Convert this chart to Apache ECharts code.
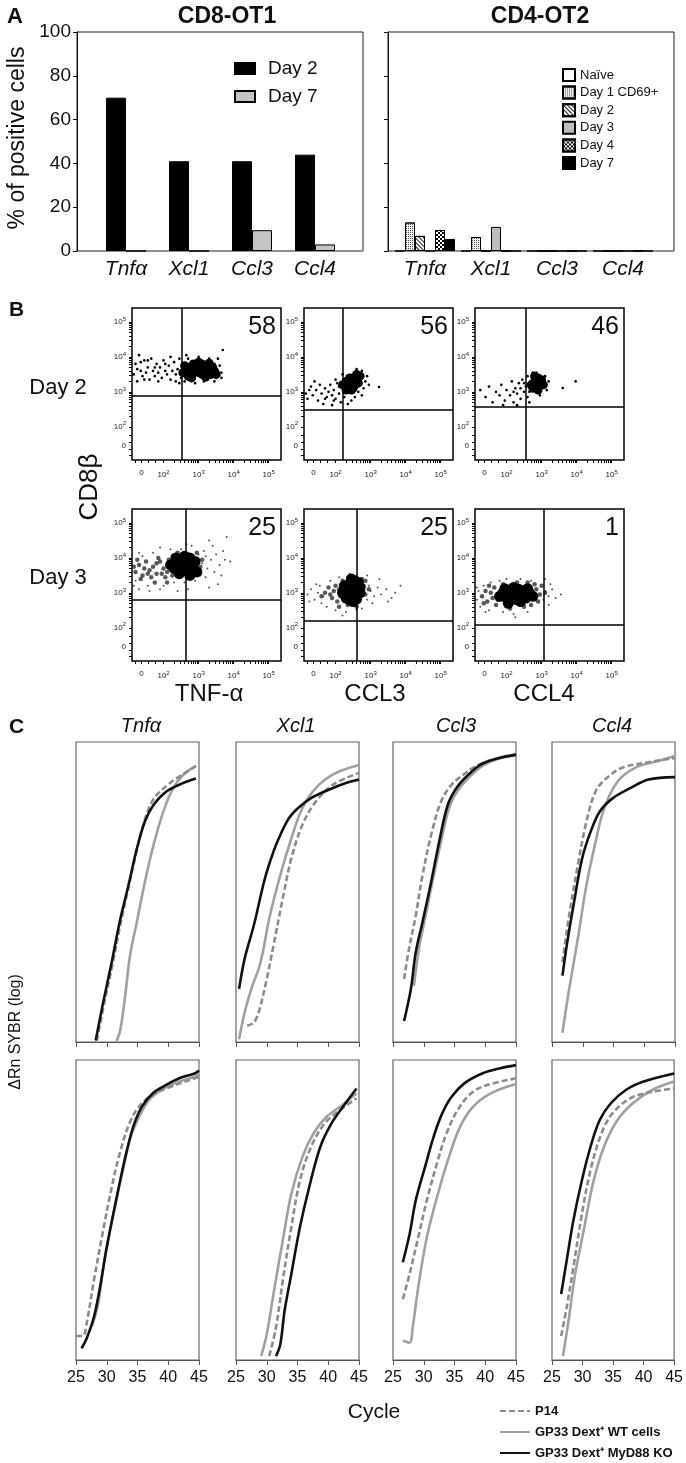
<!DOCTYPE html>
<html>
<head>
<meta charset="utf-8">
<script src="https://cdn.jsdelivr.net/npm/echarts@6/dist/echarts.min.js"></script>
<style>
  html, body { margin: 0; padding: 0; background: #fff; }
  #main { width: 686px; height: 1463px; }
</style>
</head>
<body>
<div id="main"></div>
<script>
const FONT = 'Liberation Sans, Arial, Helvetica, sans-serif';

// ---------- A: % of positive cells ----------
const genes = ['Tnfα', 'Xcl1', 'Ccl3', 'Ccl4'];
const ot1Day2 = [70, 41, 41, 44];
const ot1Day7 = [0, 0, 9.5, 3];
const ot2Naive = [0, 0, 0, 0];
const ot2Day1 = [13, 6.4, 0, 0];
const ot2Day2 = [6.9, 0, 0, 0];
const ot2Day3 = [0, 11, 0, 0];
const ot2Day4 = [9.6, 0, 0, 0];
const ot2Day7 = [5.5, 0, 0, 0];

// ---------- B: flow plots (log10 units) ----------
const flowMarkers = ['TNF-α', 'CCL3', 'CCL4'];
const flowDays = ['Day 2', 'Day 3'];
const flowPct = ['58', '56', '46', '25', '25', '1'];
const flowGates = [[2.52, 2.88], [2.21, 2.5], [2.54, 2.58], [2.64, 2.8], [2.61, 2.21], [3.06, 2.08]];

const d2TnfCore = [[2.65,3.6],[2.75,3.7],[2.8,3.5],[2.9,3.65],[2.95,3.75],[3.0,3.55],[3.05,3.68],[3.1,3.5],[3.15,3.62],[3.2,3.72],[3.25,3.55],[3.3,3.65],[2.85,3.8],[3.1,3.8],[2.7,3.45],[3.35,3.5],[3.4,3.7],[2.6,3.75],[3.45,3.6],[3.5,3.5],[2.55,3.55],[3.0,3.85],[3.3,3.82],[2.8,3.4],[3.2,3.42]];
const d2TnfCells = [[1.15,3.5],[1.2,3.8],[1.25,3.3],[1.3,4.05],[1.35,3.6],[1.4,3.45],[1.45,3.9],[1.5,3.55],[1.55,3.7],[1.6,3.35],[1.65,3.95],[1.7,3.6],[1.75,3.45],[1.8,3.8],[1.85,3.55],[1.9,3.7],[1.95,3.4],[2.0,3.9],[2.05,3.6],[2.1,3.5],[2.15,3.75],[2.2,3.35],[2.25,3.6],[2.3,3.85],[2.35,3.5],[2.4,3.65],[2.45,3.95],[2.5,3.4],[2.55,3.7],[3.45,3.8],[3.5,3.4],[3.55,3.6],[3.6,3.75],[3.45,3.3],[3.3,3.95],[3.0,4.0],[2.7,3.95],[2.6,3.3],[3.15,3.3],[3.65,3.55],[3.69,4.2],[2.9,3.25],[1.25,3.65],[1.55,3.9],[1.85,3.3],[2.2,4.0],[2.45,3.25],[3.55,3.95],[1.35,3.85],[1.75,3.7],[2.05,3.8],[2.35,3.3],[1.45,3.35],[2.65,4.05],[3.65,3.4]];
const d2Ccl3Core = [[2.2,3.2],[2.3,3.3],[2.35,3.15],[2.45,3.25],[2.5,3.4],[2.55,3.2],[2.6,3.35],[2.65,3.25],[2.4,3.4],[2.7,3.45],[2.5,3.1],[2.3,3.05],[2.6,3.5],[2.45,3.05]];
const d2Ccl3Cells = [[1.15,2.95],[1.2,2.8],[1.3,3.15],[1.35,2.9],[1.45,3.05],[1.5,2.75],[1.55,3.2],[1.6,2.95],[1.7,3.1],[1.75,2.85],[1.8,3.0],[1.85,3.2],[1.9,2.9],[1.95,3.05],[2.0,2.8],[2.05,3.25],[2.1,2.95],[2.15,2.7],[1.65,2.65],[1.9,2.62],[2.75,3.6],[2.8,3.1],[2.85,3.3],[2.9,3.45],[2.75,2.9],[2.6,3.65],[2.55,2.85],[3.24,3.14],[2.95,3.2],[2.45,2.75],[1.4,3.3],[2.0,3.35],[2.25,2.85],[2.2,3.5],[2.65,3.0],[1.25,3.05],[1.7,2.8],[2.1,3.15],[1.95,2.75],[2.35,2.65]];
const d2Ccl4Core = [[2.7,3.2],[2.8,3.3],[2.85,3.15],[2.9,3.4],[2.95,3.25],[3.0,3.35],[2.75,3.1],[3.05,3.2],[2.9,3.05],[2.8,3.45]];
const d2Ccl4Cells = [[1.25,3.05],[1.4,2.85],[1.5,3.15],[1.6,2.7],[1.7,3.0],[1.8,2.9],[1.85,3.2],[1.95,2.75],[2.0,3.05],[2.1,2.9],[2.15,3.3],[2.2,2.7],[2.25,3.1],[2.3,2.95],[2.35,3.25],[2.4,2.8],[2.45,3.35],[2.5,3.0],[2.55,3.15],[2.6,2.85],[2.6,3.45],[2.65,2.7],[3.1,3.45],[3.15,3.05],[3.2,3.3],[2.85,3.55],[2.95,2.9],[3.6,3.11],[3.97,3.3],[2.75,3.55],[1.9,2.62],[2.3,2.62],[2.5,3.25],[2.4,3.1],[2.65,3.0],[2.2,3.0]];
const d3TnfCore = [[2.3,3.7],[2.4,3.85],[2.5,3.65],[2.55,3.95],[2.6,3.75],[2.65,3.85],[2.7,3.6],[2.75,4.0],[2.8,3.8],[2.85,3.7],[2.9,3.9],[2.45,3.55],[2.35,4.0],[2.95,3.6],[2.2,3.8],[2.6,4.05],[2.75,3.5],[2.5,3.8]];
const d3TnfMid = [[1.2,3.6],[1.3,3.8],[1.4,3.5],[1.5,3.9],[1.6,3.65],[1.7,3.75],[1.8,3.55],[1.9,3.9],[2.0,3.7],[2.1,3.6],[1.25,3.95],[1.45,3.7],[1.65,3.45],[1.85,4.0],[2.05,3.45],[2.15,3.95],[1.35,3.4],[1.75,3.3],[1.15,3.75],[1.95,3.55],[1.55,3.55],[2.25,3.5],[2.1,3.3],[1.8,3.85],[3.05,3.75],[3.1,3.95],[2.95,4.15],[2.4,4.15]];
const d3TnfCells = [[1.15,3.2],[1.3,4.15],[1.55,3.2],[1.7,4.15],[2.0,3.2],[2.3,3.3],[2.6,3.3],[2.9,3.35],[3.05,3.5],[3.1,3.85],[3.15,4.2],[3.25,3.7],[3.35,3.95],[3.4,4.35],[3.5,4.1],[3.6,3.8],[3.7,4.2],[3.75,3.95],[3.3,4.5],[3.8,4.6],[2.8,4.35],[2.5,4.25],[2.2,4.25],[1.9,4.3],[3.3,3.15],[2.7,3.1],[2.4,3.05],[3.9,3.9],[3.55,3.25],[1.6,3.05],[1.2,3.35],[1.4,4.05],[3.0,4.1],[3.2,3.45],[1.3,3.1],[1.9,3.1],[3.45,3.6],[3.2,4.05],[2.65,4.4],[3.65,3.5]];
const d3Ccl3Core = [[2.2,3.0],[2.3,3.15],[2.35,2.9],[2.4,3.25],[2.45,3.05],[2.5,3.2],[2.55,2.95],[2.6,3.1],[2.65,3.3],[2.7,3.0],[2.4,2.8],[2.55,3.35],[2.3,2.85],[2.6,2.82],[2.25,3.2],[2.45,3.4],[2.7,3.15],[2.5,2.75]];
const d3Ccl3Mid = [[1.7,3.0],[1.8,3.15],[1.9,2.85],[1.95,3.05],[2.0,3.2],[2.05,2.75],[2.1,3.1],[2.15,2.9],[2.8,3.2],[2.75,3.4],[2.85,2.95],[2.5,3.45],[2.2,3.35],[2.35,2.65],[2.6,2.6],[1.6,2.9],[1.85,2.95],[2.1,2.6],[2.85,3.35],[2.95,3.1]];
const d3Ccl3Cells = [[1.2,2.95],[1.3,3.1],[1.4,2.8],[1.5,3.0],[1.6,2.7],[1.55,3.2],[1.75,2.6],[1.85,3.35],[2.0,2.5],[2.3,2.45],[2.6,2.5],[2.9,2.8],[2.95,3.2],[3.0,3.05],[3.1,2.9],[3.2,3.15],[3.3,2.95],[3.45,3.1],[3.6,2.85],[3.7,3.0],[3.85,3.2],[2.9,3.5],[2.4,3.55],[3.25,3.4],[3.5,2.75],[2.1,3.45],[1.65,2.9],[1.45,3.25],[1.25,2.75],[3.05,2.7],[2.75,2.55],[2.2,2.35]];
const d3Ccl4Core = [[1.8,2.9],[1.9,3.0],[2.0,2.85],[2.1,3.05],[2.15,2.9],[2.25,3.0],[2.3,2.8],[2.35,3.1],[2.45,2.95],[2.5,3.05],[2.55,2.85],[2.65,3.0],[2.75,2.9],[2.2,3.15],[2.4,2.75],[2.6,3.12],[1.95,3.12],[2.05,2.7]];
const d3Ccl4Mid = [[1.3,2.9],[1.4,3.05],[1.45,2.75],[1.55,3.0],[1.6,2.85],[1.65,3.15],[1.7,2.65],[2.85,3.1],[2.9,2.75],[2.95,2.95],[3.0,3.2],[2.8,3.25],[2.3,3.3],[1.9,3.25],[2.5,2.6],[2.1,2.55],[1.5,3.2],[1.75,2.8],[2.7,2.65],[3.1,3.0],[2.6,3.3],[1.35,2.7]];
const d3Ccl4Cells = [[1.15,2.8],[1.2,3.05],[1.25,2.6],[1.35,3.2],[1.5,2.5],[1.55,3.3],[1.8,3.35],[1.9,2.45],[2.2,2.4],[2.4,3.4],[2.6,2.45],[2.7,3.35],[3.05,2.8],[3.1,3.05],[3.2,2.9],[3.3,3.1],[3.4,2.85],[3.55,2.95],[3.1,3.4],[2.25,2.3],[3.2,2.65],[1.4,2.45],[1.15,3.15],[2.0,3.4],[3.25,3.25]];

const flowCore = [d2TnfCore, d2Ccl3Core, d2Ccl4Core, d3TnfCore, d3Ccl3Core, d3Ccl4Core];
const flowMid = [[], [], [], d3TnfMid, d3Ccl3Mid, d3Ccl4Mid];
const flowCells = [d2TnfCells, d2Ccl3Cells, d2Ccl4Cells, d3TnfCells, d3Ccl3Cells, d3Ccl4Cells];

// ---------- C: qPCR amplification (cycle, relative log dRn) ----------
const qGenes = ['Tnfα', 'Xcl1', 'Ccl3', 'Ccl4'];
const qNames = ['P14', 'GP33 Dext⁺ WT cells', 'GP33 Dext⁺ MyD88 KO'];

const tnfTopP14 = [[28.4,0.5],[29.6,13],[31,26.5],[32.3,40],[33.6,52],[34.9,64],[36.1,73.5],[37.2,79.5],[38.2,82.5],[39.8,85.5],[41.4,88],[43,90],[44.5,92]];
const tnfTopWT = [[31.6,0.3],[32.2,4],[33,15.5],[33.8,29],[34.9,40],[36.2,53.3],[37.6,65.6],[39.2,76.8],[40.8,84.6],[42.4,89],[44.5,92]];
const tnfTopKO = [[28.2,0.5],[29.4,13],[30.8,26.5],[32.1,40],[33.5,52],[34.9,64.5],[36.2,73.5],[37.6,79],[39.7,83.5],[42.4,86.3],[44.5,87.8]];
const xclTopP14 = [[26.8,5.4],[27.9,6.5],[28.7,10],[30,21],[31.1,32.2],[32.6,47.8],[34,61.2],[35.8,72.4],[38,80.2],[40.8,85.8],[45,89.7]];
const xclTopWT = [[25.5,0.9],[26.4,9.8],[27.5,17.7],[29,26.6],[30.4,41.1],[32.2,55.6],[34,67.9],[35.8,78],[38,84.7],[40.8,89.2],[45,92.3]];
const xclTopKO = [[25.5,17.7],[26.4,27.7],[27.9,38.9],[29.7,54.5],[31.1,63.5],[32.2,69],[33.6,74.6],[35.1,78],[37.2,81.3],[40.1,84.1],[43,86.4],[45,87.5]];
const ccl3TopP14 = [[26.8,21],[27.6,31],[28.7,42.2],[29.8,55.6],[31.2,69],[32.8,80.1],[34.5,85.7],[36.7,89.5],[38.5,92],[41,94],[45,95.8]];
const ccl3TopWT = [[28.4,18.7],[29.2,31],[30.1,40],[31.4,53.3],[32.8,66.7],[34.2,78.5],[35.6,84],[37.5,88.5],[39.7,92.2],[42.1,94.4],[45,95.5]];
const ccl3TopKO = [[26.8,7],[27.9,17.6],[28.7,29.9],[29.8,40],[31.2,53.3],[32.5,66.7],[33.9,79],[35.3,84.6],[37.2,89],[39.4,92.6],[42.1,94.6],[45,95.8]];
const ccl4TopP14 = [[26.7,26.6],[27.7,41.1],[29.2,59],[30.6,73.5],[32.1,83.6],[33.9,88],[36.4,91.4],[40,93],[45,94.7]];
const ccl4TopWT = [[26.7,3.1],[27.7,16.5],[29.2,34.4],[30.6,52.3],[32.1,66.8],[33.5,78],[35.7,86.9],[38.5,91.4],[42.1,93.6],[45,95.3]];
const ccl4TopKO = [[26.7,22.1],[27.4,32.2],[28.5,45.6],[29.9,61.2],[31.3,70.2],[32.8,76.9],[34.9,81.3],[37.8,84.7],[40.7,87.5],[45,88.3]];

const tnfBotP14 = [[25,8],[26.1,8],[26.8,13],[27.9,26.4],[29.3,42],[30.7,56.5],[32.1,68.8],[33.9,79.9],[35.7,85.5],[37.9,88.9],[40.4,91.1],[44.3,93.9],[45,94.5]];
const tnfBotWT = [[27.6,11.4],[28.6,18.6],[29.6,33.1],[31.1,48.7],[32.5,62.1],[33.9,74.4],[35.4,81.6],[37.1,87.2],[39.3,90.5],[41.8,92.8],[44.3,94.4],[45,95]];
const tnfBotKO = [[25.9,3.9],[26.8,7.5],[27.9,14.2],[28.9,24.2],[30,37.6],[31.4,52.1],[32.9,66.6],[34.3,77.7],[35.7,84.4],[37.5,88.9],[39.6,91.6],[41.8,93.9],[44.3,95.5],[45,96.5]];
const xclBotP14 = [[30.4,1.3],[31.5,10.8],[32.6,26.4],[34,44.3],[35.4,59.9],[37.2,71],[39.4,78.8],[41.9,83.3],[44.6,87.2]];
const xclBotWT = [[29.1,1.3],[30,8.6],[31.1,22],[32.6,39.8],[34,55.4],[35.8,67.7],[37.6,75.5],[39.7,81],[42.3,85],[44.6,88.9]];
const xclBotKO = [[31.5,1.3],[32.2,5.2],[32.9,16.4],[34,28.7],[35.4,44.3],[36.9,57.6],[38.7,71],[40.5,78.8],[42.6,85],[44.6,90.5]];
const ccl3BotP14 = [[26.6,20.3],[27.7,28.7],[29.1,40.9],[30.5,53.2],[32.3,66.6],[33.7,75.5],[35.5,83.3],[37.7,88.9],[40.2,91.6],[45,93.9]];
const ccl3BotWT = [[26.6,6.4],[27.7,5.8],[28.2,10.8],[29.1,24.2],[30.5,40.9],[32.3,55.4],[34.1,67.7],[35.9,77.7],[38,84.4],[40.9,88.9],[45,92]];
const ccl3BotKO = [[26.6,32.6],[27.7,42],[28.7,53.2],[30.2,64.3],[31.6,74.4],[33,82.2],[34.5,87.7],[36.6,92.2],[39.5,95.5],[42.3,97.2],[45,98.3]];
const ccl4BotP14 = [[26.5,8],[27.4,17.5],[28.5,30.9],[29.9,48.7],[31.3,63.2],[33.1,75.5],[34.9,82.2],[37.8,87.2],[41.4,89.4],[45,90.5]];
const ccl4BotWT = [[26.8,1.3],[27.7,13],[28.8,28.7],[30.3,44.3],[31.7,58.8],[33.5,71],[35.7,79.9],[38.2,85.5],[41.4,90],[45,92.8]];
const ccl4BotKO = [[26.5,22],[27.4,33.1],[28.5,46.5],[29.9,59.9],[31.3,71],[32.8,79.9],[34.6,85.5],[37.1,90],[40,92.8],[45,95.5]];

const qTop = [[tnfTopP14, tnfTopWT, tnfTopKO], [xclTopP14, xclTopWT, xclTopKO], [ccl3TopP14, ccl3TopWT, ccl3TopKO], [ccl4TopP14, ccl4TopWT, ccl4TopKO]];
const qBot = [[tnfBotP14, tnfBotWT, tnfBotKO], [xclBotP14, xclBotWT, xclBotKO], [ccl3BotP14, ccl3BotWT, ccl3BotKO], [ccl4BotP14, ccl4BotWT, ccl4BotKO]];

// ---------- layout ----------
const grid = [], xAxis = [], yAxis = [], series = [], graphic = [];

function txt(text, x, y, size, opts) {
  graphic.push(Object.assign({
    type: 'text', x: x, y: y, silent: true,
    style: Object.assign({
      text: text, fontSize: size, fontFamily: FONT, fill: '#111',
      textAlign: 'center', textVerticalAlign: 'middle'
    }, (opts && opts.style) || {})
  }, (opts && opts.rotation) ? { rotation: opts.rotation } : {}));
}

// A: box grids carry y labels, bar grids are inset like the original
const aBox = [{ left: 77 }, { left: 388 }];
const aBars = [{ left: 94.5, width: 252 }, { left: 392, width: 264 }];
aBox.forEach((b, k) => {
  grid.push({ left: b.left, top: 32, width: 286, height: 219, show: true, borderColor: '#222', borderWidth: 1 });
  xAxis.push({ gridIndex: grid.length - 1, type: 'value', show: false, min: 0, max: 1 });
  yAxis.push({
    gridIndex: grid.length - 1, type: 'value', min: 0, max: 100, interval: 20,
    axisLine: { show: true, lineStyle: { color: '#111', width: 1 } },
    axisTick: { show: true, length: 4, lineStyle: { color: '#111' } },
    splitLine: { show: false },
    axisLabel: { show: k === 0, fontSize: 19, fontFamily: FONT, color: '#111', margin: 6 }
  });
});
aBars.forEach(b => {
  grid.push({ left: b.left, top: 32, width: b.width, height: 219 });
  xAxis.push({
    gridIndex: grid.length - 1, type: 'category', data: genes,
    axisLine: { show: false }, axisTick: { show: false },
    axisLabel: { fontSize: 21, fontStyle: 'italic', fontFamily: FONT, color: '#111', margin: 8 }
  });
  yAxis.push({ gridIndex: grid.length - 1, type: 'value', min: 0, max: 100, show: false });
});

series.push(
  { type: 'bar', name: 'Day 2', xAxisIndex: 2, yAxisIndex: 2, data: ot1Day2, barWidth: 20, barGap: '0%',
    itemStyle: { color: '#000', borderColor: '#000', borderWidth: 1 } },
  { type: 'bar', name: 'Day 7', xAxisIndex: 2, yAxisIndex: 2, data: ot1Day7, barWidth: 20, barGap: '0%',
    itemStyle: { color: '#c4c4c4', borderColor: '#000', borderWidth: 1 } }
);

const decalDots = { symbol: 'rect', symbolSize: 1, dashArrayX: [1, 1], dashArrayY: [1, 1], color: '#555' };
const decalHatch = { symbol: 'rect', symbolSize: 1, dashArrayX: [1, 0], dashArrayY: [1, 2], rotation: Math.PI / 4, color: '#222' };
const decalCheck = { symbol: 'rect', symbolSize: 1, dashArrayX: [[2, 2], [0, 2, 2, 0]], dashArrayY: [2, 0], color: '#000' };
const ot2Series = [
  ['Naïve', ot2Naive, '#fff', null],
  ['Day 1 CD69+', ot2Day1, '#eee', decalDots],
  ['Day 2 ', ot2Day2, '#fff', decalHatch],
  ['Day 3', ot2Day3, '#bdbdbd', null],
  ['Day 4', ot2Day4, '#fff', decalCheck],
  ['Day 7 ', ot2Day7, '#000', null]
];
ot2Series.forEach(s => {
  const style = { color: s[2], borderColor: '#000', borderWidth: 1 };
  if (s[3]) style.decal = s[3];
  series.push({ type: 'bar', name: s[0], xAxisIndex: 3, yAxisIndex: 3, data: s[1], barWidth: 10, barGap: '0%', itemStyle: style });
});

// B: flow cytometry plots
const flowLeft = [132, 304, 475];
const flowTop = [308, 509];
const flowW = 149, flowH = 152;
const flowTickVals = [1.2, 1.37, 1.55, 1.75];
for (let d = 2; d <= 4; d++) for (let k = 1; k <= 9; k++) flowTickVals.push(d + Math.log10(k));
flowTickVals.push(5);
const supLabel = v => (v < 1.9 ? '0' : '10{s|' + Math.round(v) + '}');

for (let i = 0; i < 6; i++) {
  const col = i % 3, row = Math.floor(i / 3);
  const gi = grid.length;
  grid.push({ left: flowLeft[col], top: flowTop[row], width: flowW, height: flowH, show: true, borderColor: '#000', borderWidth: 1.5 });
  const labelCommon = { fontSize: 8, fontFamily: FONT, color: '#222', formatter: supLabel,
    rich: { s: { fontSize: 6, fontFamily: FONT, color: '#222', padding: [0, 0, 6, 0] } } };
  xAxis.push({
    gridIndex: gi, type: 'value', min: 1.1, max: 5.35,
    axisLine: { show: false }, splitLine: { show: false },
    axisTick: { show: true, length: 3, customValues: flowTickVals, lineStyle: { color: '#000' } },
    axisLabel: Object.assign({ customValues: [1.37, 2, 3, 4, 5], margin: 9 }, labelCommon)
  });
  yAxis.push({
    gridIndex: gi, type: 'value', min: 1.05, max: 5.4,
    axisLine: { show: false }, splitLine: { show: false },
    axisTick: { show: true, length: 3, customValues: flowTickVals, lineStyle: { color: '#000' } },
    axisLabel: Object.assign({ customValues: [1.47, 2, 3, 4, 5], margin: 6 }, labelCommon)
  });
  series.push(
    { type: 'scatter', name: 'flowCells' + i, xAxisIndex: gi, yAxisIndex: gi, data: flowCells[i], silent: true,
      symbolSize: row === 1 ? 2 : 2.6, itemStyle: { color: row === 1 ? '#555' : '#000', opacity: 1 },
      markLine: { silent: true, symbol: ['none', 'none'], label: { show: false },
        lineStyle: { color: '#000', width: 1.5, type: 'solid' },
        data: [{ xAxis: flowGates[i][0] }, { yAxis: flowGates[i][1] }] } },
    { type: 'scatter', name: 'flowMid' + i, xAxisIndex: gi, yAxisIndex: gi, data: flowMid[i], silent: true,
      symbolSize: 4.5, itemStyle: { color: '#222', opacity: 0.75 } },
    { type: 'scatter', name: 'flowCore' + i, xAxisIndex: gi, yAxisIndex: gi, data: flowCore[i], silent: true,
      symbolSize: row === 1 ? 11 : 9, itemStyle: { color: '#000', opacity: 1 } }
  );
  txt(flowPct[i], flowLeft[col] + flowW - 5, flowTop[row] + 19, 25, { style: { textAlign: 'right' } });
}

// C: qPCR curves
const qLeft = [76, 236, 393, 552];
const qTopY = [742, 1060];
const qW = 123, qH = 300;
const qStyles = [
  { color: '#8c8c8c', width: 2.6, type: [6, 3] },
  { color: '#a0a0a0', width: 2.6, type: 'solid' },
  { color: '#111', width: 2.6, type: 'solid' }
];
[qTop, qBot].forEach((rowData, row) => {
  rowData.forEach((curves, col) => {
    const gi = grid.length;
    grid.push({ left: qLeft[col], top: qTopY[row], width: qW, height: qH, show: true, borderColor: '#666', borderWidth: 1.2 });
    xAxis.push({
      gridIndex: gi, type: 'value', min: 25, max: 45, interval: 5,
      axisLine: { show: true, lineStyle: { color: '#555', width: 1.2 } },
      axisTick: { show: true, length: 5, lineStyle: { color: '#555' } },
      splitLine: { show: false },
      axisLabel: { show: row === 1, fontSize: 16, fontFamily: FONT, color: '#111', margin: 10 }
    });
    yAxis.push({ gridIndex: gi, type: 'value', min: 0, max: 100, show: false });
    [1, 0, 2].forEach(k => {
      series.push({
        type: 'line', name: qNames[k], xAxisIndex: gi, yAxisIndex: gi, data: curves[k],
        symbol: 'none', showSymbol: false, smooth: 0.35, silent: true,
        lineStyle: qStyles[k], itemStyle: { color: qStyles[k].color }
      });
    });
  });
});

// text
txt('A', 7, 17, 22, { style: { fontWeight: 'bold', textAlign: 'left' } });
txt('CD8-OT1', 227, 17, 23, { style: { fontWeight: 'bold' } });
txt('CD4-OT2', 540, 17, 23, { style: { fontWeight: 'bold' } });
txt('% of positive cells', 18, 138, 23, { rotation: Math.PI / 2 });
txt('B', 9, 310, 21, { style: { fontWeight: 'bold', textAlign: 'left' } });
txt(flowDays[0], 58, 388, 22);
txt(flowDays[1], 58, 578, 22);
txt('CD8β', 90, 487, 26, { rotation: Math.PI / 2 });
const flowLabelX = [209, 375, 544];
flowMarkers.forEach((m, k) => txt(m, flowLabelX[k], 694, 24));
txt('C', 9, 727, 21, { style: { fontWeight: 'bold', textAlign: 'left' } });
const qTitleX = [141, 296, 456, 612];
qGenes.forEach((g, k) => txt(g, qTitleX[k], 726, 20, { style: { fontStyle: 'italic' } }));
txt('ΔRn SYBR (log)', 16, 1032, 16, { rotation: Math.PI / 2 });
txt('Cycle', 374, 1412, 21);

const option = {
  animation: false,
  backgroundColor: '#fff',
  grid: grid,
  xAxis: xAxis,
  yAxis: yAxis,
  series: series,
  graphic: graphic,
  legend: [
    { left: 229, top: 54, orient: 'vertical', selectedMode: false, icon: 'rect',
      itemWidth: 20, itemHeight: 11, itemGap: 9, data: ['Day 2', 'Day 7'],
      textStyle: { fontSize: 19, fontFamily: FONT, color: '#111', lineHeight: 11, padding: [0, 0, 0, 8] } },
    { left: 557, top: 63, orient: 'vertical', selectedMode: false, icon: 'rect',
      itemWidth: 12, itemHeight: 12, itemGap: 3.6, data: ot2Series.map(s => s[0]),
      textStyle: { fontSize: 13, fontFamily: FONT, color: '#111', lineHeight: 12 } },
    { left: 499, top: 1403, height: 70, padding: 0, orient: 'vertical', selectedMode: false,
      itemWidth: 30, itemHeight: 8, itemGap: 5, data: qNames,
      itemStyle: { opacity: 0 },
      textStyle: { fontSize: 13, fontWeight: 'bold', fontFamily: FONT, color: '#111', lineHeight: 16 } }
  ]
};

const chart = echarts.init(document.getElementById('main'), null, { renderer: 'canvas' });
chart.setOption(option);
</script>
</body>
</html>
